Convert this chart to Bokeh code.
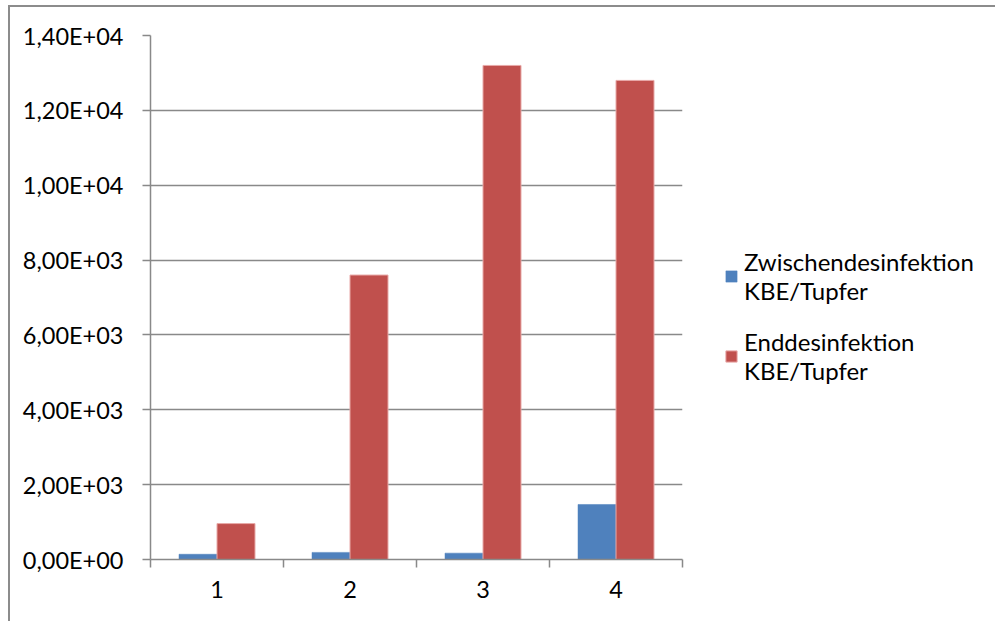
from bokeh.plotting import figure
from bokeh.models import (FixedTicker, Legend, LegendItem, InlineStyleSheet, Range1d,
                          ColumnDataSource)
from bokeh.transform import dodge
from bokeh.embed import file_html
from bokeh.resources import INLINE

categories = ["1", "2", "3", "4"]
zwischen = [140, 190, 170, 1470]
end = [960, 7600, 13200, 12800]
y_ticks = [0, 2000, 4000, 6000, 8000, 10000, 12000, 14000]
y_tick_labels = ["0,00E+00", "2,00E+03", "4,00E+03", "6,00E+03", "8,00E+03",
                 "1,00E+04", "1,20E+04", "1,40E+04"]
series_names = ["Zwischendesinfektion\nKBE/Tupfer", "Enddesinfektion\nKBE/Tupfer"]

FONT = "Lato"
AXIS_FS = "23.5px"
LEG_FS = "24px"
GRAY = "#898989"
BW = 1 / 3.5

xs = [i + 1 for i in range(len(categories))]
cds = ColumnDataSource(dict(x=xs, z=zwischen, e=end))

p = figure(frame_width=532, frame_height=524, output_backend="svg", toolbar_location=None,
           x_range=Range1d(0.5, len(categories) + 0.5), y_range=Range1d(0, 14000),
           min_border_left=150, min_border_right=0, min_border_top=35,
           min_border_bottom=62)
p.outline_line_color = None
p.background_fill_color = "white"
p.border_fill_color = "white"

r1 = p.vbar(x=dodge("x", -BW / 2), top="z", width=BW, source=cds,
            fill_color="#4F81BD", line_color="#4F81BD", line_width=0.5)
r2 = p.vbar(x=dodge("x", BW / 2), top="e", width=BW, source=cds,
            fill_color="#C0504D", line_color="#E8A9A8", line_width=1)

p.xgrid.visible = False
p.ygrid.ticker = FixedTicker(ticks=y_ticks)
p.ygrid.grid_line_color = GRAY
p.ygrid.grid_line_width = 1.5

ya = p.yaxis[0]
ya.ticker = FixedTicker(ticks=y_ticks)
ya.major_label_overrides = {t: l for t, l in zip(y_ticks, y_tick_labels)}
ya.axis_line_color = GRAY
ya.axis_line_width = 1.5
ya.major_tick_line_color = GRAY
ya.major_tick_line_width = 1.5
ya.major_tick_in = 0
ya.major_tick_out = 8
ya.minor_tick_line_color = None
ya.major_label_standoff = 19
ya.major_label_text_font = FONT
ya.major_label_text_font_size = AXIS_FS
ya.major_label_text_color = "black"

xa = p.xaxis[0]
xa.ticker = FixedTicker(ticks=xs, minor_ticks=[x - 0.5 for x in xs] + [xs[-1] + 0.5])
xa.major_label_overrides = {x: c for x, c in zip(xs, categories)}
xa.axis_line_color = GRAY
xa.axis_line_width = 1.5
xa.major_tick_line_color = None
xa.major_tick_in = 0
xa.major_tick_out = 0
xa.minor_tick_line_color = GRAY
xa.minor_tick_line_width = 1.5
xa.minor_tick_in = 0
xa.minor_tick_out = 8
xa.major_label_standoff = 13
xa.major_label_text_font = FONT
xa.major_label_text_font_size = AXIS_FS
xa.major_label_text_color = "black"

legend = Legend(items=[LegendItem(label=series_names[0], renderers=[r1]),
                       LegendItem(label=series_names[1], renderers=[r2])],
                location=(42, 174))
legend.border_line_alpha = 0
legend.background_fill_alpha = 0
legend.padding = 0
legend.margin = 0
legend.spacing = 22
legend.glyph_width = 14
legend.glyph_height = 14
legend.label_standoff = 6
legend.label_text_font = FONT
legend.label_text_font_size = LEG_FS
legend.label_text_color = "black"
p.add_layout(legend, "right")

p.stylesheets = [InlineStyleSheet(css=""":host::after { content: ''; position: absolute;
 left: 8px; top: 5px; right: 0px; bottom: 0px; border-left: 2px solid #8c8c8c;
 border-top: 2px solid #8c8c8c; pointer-events: none; }""")]

open("out.html", "w").write(file_html(p, INLINE))
